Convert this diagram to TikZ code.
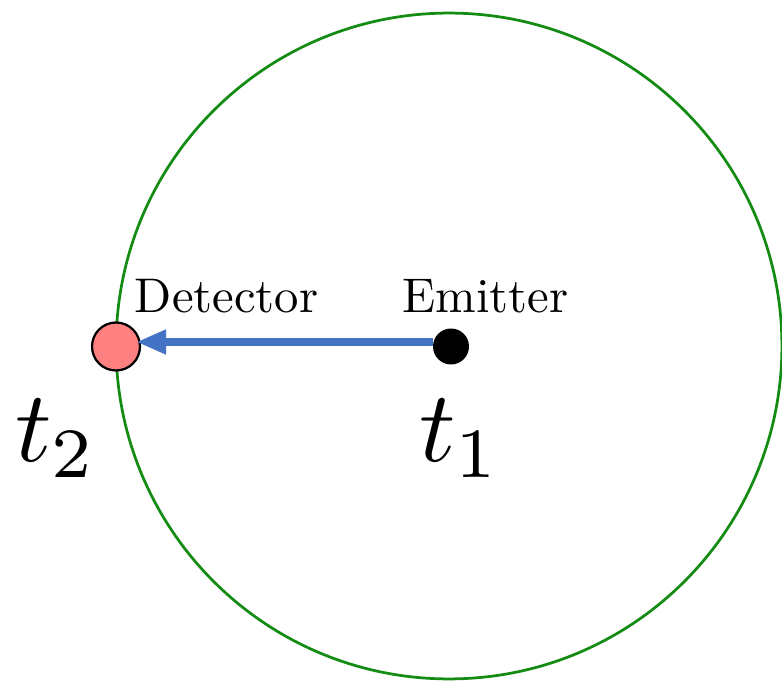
\documentclass[tikz,border=0pt]{standalone}
\usepackage{amsmath}
\usetikzlibrary{arrows.meta}

\definecolor{ringgreen}{RGB}{20,140,20}
\definecolor{signalblue}{RGB}{68,114,196}
\definecolor{detred}{RGB}{255,128,128}

\begin{document}
\begin{tikzpicture}[x=0.02cm, y=-0.02cm, >={Triangle[length=0.6cm, width=0.46cm]},
    ring/.style={draw=ringgreen, line width=0.055cm},
    detectordot/.style={circle, draw=black, line width=0.045cm, fill=detred, inner sep=0pt, minimum size=0.96cm},
    emitterdot/.style={circle, fill=black, inner sep=0pt, minimum size=0.72cm},
    signal/.style={->, draw=signalblue, line width=0.17cm},
    tag/.style={scale=2.77, anchor=base, inner sep=0pt},
    timetag/.style={scale=5.75, anchor=base, inner sep=0pt}]
                \useasboundingbox (0,0) rectangle (782,682);
                \coordinate (O) at (449,346);
                
                \draw[ring] (O) circle (6.66cm);
                
                \node[detectordot] (detector) at (116,346.5) {};
                \node[emitterdot] (emitter) at (451,346.5) {};
                \draw[signal, shorten >=-0.1cm] ([yshift=0.09cm]emitter.west) -- ([yshift=0.09cm]detector.east);
                
                \node[tag] (detlabel) at (226.5,313) {Detector};
                \node[tag] (emitlabel) at (485.5,313) {Emitter};
                \node[timetag] (ttwo) at (56,462) {$t_2$};
                \node[timetag] (tone) at (460,462) {$t_1$};
            \end{tikzpicture}
\end{document}
